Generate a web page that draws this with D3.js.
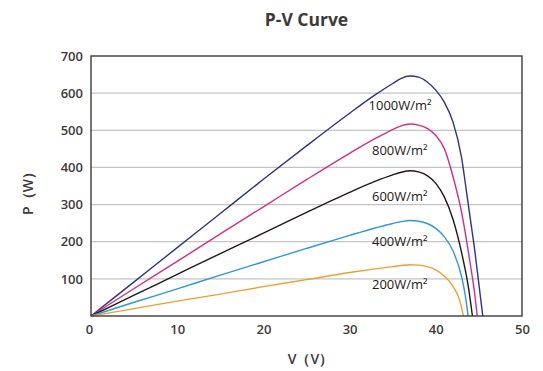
<!DOCTYPE html>
<html>
<head>
<meta charset="utf-8">
<script src="https://cdn.jsdelivr.net/npm/d3@7"></script>
<style>
  body { margin: 0; background: #fff; }
  text { font-family: "Open Sans", "Noto Sans", sans-serif; }
</style>
</head>
<body>
<div id="chart"></div>
<script>
// irradiance series (V in volts, P in watts)
const series = ['1000W/m²', '800W/m²', '600W/m²', '400W/m²', '200W/m²'];
const colors = ['#2e3480', '#d4307e', '#231815', '#2e9ad3', '#f0a033'];

const v1000 = [0, 5, 10, 15, 20, 25, 30, 33, 35, 36, 37, 38, 39, 40, 41, 42, 43, 43.5, 44, 44.5, 45, 45.45];
const p1000 = [0, 92, 184, 276, 368, 458, 546, 596, 626, 640, 646, 643, 630, 608, 575, 522, 425, 345, 262, 180, 85, 0];

const v800 = [0, 5, 10, 15, 20, 25, 30, 33, 35, 36, 37, 38, 39, 40, 41, 42, 43, 44, 44.5, 44.8];
const p800 = [0, 74, 147, 221, 294, 367, 438, 478, 502, 512, 517, 514, 505, 486, 450, 375, 278, 140, 62, 0];

const v600 = [0, 5, 10, 15, 20, 25, 30, 33, 35, 36, 37, 38, 39, 40, 41, 42, 43, 43.8, 44.25];
const p600 = [0, 56, 112, 168, 223, 279, 333, 363, 380, 387, 391, 388, 378, 357, 320, 260, 170, 75, 0];

const v400 = [0, 5, 10, 15, 20, 25, 30, 33, 35, 36, 37, 38, 39, 40, 41, 42, 43, 43.4, 43.75];
const p400 = [0, 37, 73, 110, 146, 182, 217, 237, 249, 254, 257, 255, 249, 236, 213, 175, 105, 58, 0];

const v200 = [0, 5, 10, 15, 20, 25, 30, 33, 35, 36, 37, 38, 39, 40, 41, 42, 42.8, 43.2];
const p200 = [0, 20, 40, 59, 79, 98, 117, 127, 133, 136, 138, 137, 133, 124, 107, 80, 40, 0];

const voltages = [v1000, v800, v600, v400, v200];
const powers = [p1000, p800, p600, p400, p200];

// label anchor points (in data units)
const labelV = [32.2, 32.6, 32.6, 32.6, 32.6];
const labelP = [568, 445, 321, 200, 86];

const xTicks = [0, 10, 20, 30, 40, 50];
const yTicks = [100, 200, 300, 400, 500, 600, 700];

const W = 543, H = 371;
const margin = { top: 56, right: 21, bottom: 55, left: 91 };
const width = W - margin.left - margin.right,
  height = H - margin.top - margin.bottom;

const svg = d3.select('#chart').append('svg')
  .attr('width', W)
  .attr('height', H);

const g = svg.append('g')
  .attr('transform', `translate(${margin.left},${margin.top})`);

const x = d3.scaleLinear().domain([0, 50]).range([0, width]);
const y = d3.scaleLinear().domain([0, 700]).range([height, 0]);

// grid lines
g.append('g')
  .selectAll('line')
  .data(yTicks.filter(d => d < 700))
  .enter().append('line')
  .attr('x1', 0)
  .attr('x2', width)
  .attr('y1', d => y(d))
  .attr('y2', d => y(d))
  .attr('stroke', '#c4c4c4')
  .attr('stroke-width', 1.2);

// curves
const line = d3.line()
  .x(d => x(d[0]))
  .y(d => y(d[1]))
  .curve(d3.curveMonotoneX);

series.forEach(function (s, i) {
  const pts = voltages[i].map((v, j) => [v, powers[i][j]]);
  g.append('path')
    .datum(pts)
    .attr('fill', 'none')
    .attr('stroke', colors[i])
    .attr('stroke-width', 1.4)
    .attr('d', line);

  g.append('text')
    .attr('x', x(labelV[i]))
    .attr('y', y(labelP[i]))
    .attr('dy', '0.35em')
    .attr('fill', '#231815')
    .style('font-size', '13px')
    .text(s);
});

// frame
g.append('rect')
  .attr('width', width)
  .attr('height', height)
  .attr('fill', 'none')
  .attr('stroke', '#3e3a39')
  .attr('stroke-width', 1.4);

// axes (labels only, frame drawn above)
const xAxis = d3.axisBottom(x).tickValues(xTicks).tickSize(0).tickPadding(9);
const yAxis = d3.axisLeft(y).tickValues(yTicks).tickSize(0).tickPadding(8);

const gx = g.append('g')
  .attr('transform', `translate(0,${height})`)
  .call(xAxis);
const gy = g.append('g').call(yAxis);

[gx, gy].forEach(function (a) {
  a.select('.domain').remove();
  a.selectAll('text')
    .attr('fill', '#3e3a39')
    .style('font-size', '13px')
    .style('font-weight', '600')
    .style('font-family', '"Open Sans", "Noto Sans", sans-serif');
});
gx.selectAll('text').filter(d => d === 0).attr('dx', '-2');

// titles
svg.append('text')
  .attr('x', margin.left + width / 2)
  .attr('y', 26)
  .attr('text-anchor', 'middle')
  .attr('fill', '#3e3a39')
  .style('font-size', '17.5px')
  .style('font-weight', '700')
  .text('P-V Curve');

svg.append('text')
  .attr('x', margin.left + width / 2 + 4)
  .attr('y', 364)
  .attr('text-anchor', 'middle')
  .attr('fill', '#3e3a39')
  .style('font-size', '14px')
  .style('font-weight', '600')
  .text('V（V）');

svg.append('text')
  .attr('transform', `translate(33,190) rotate(-90)`)
  .attr('text-anchor', 'middle')
  .attr('fill', '#3e3a39')
  .style('font-size', '14px')
  .style('font-weight', '600')
  .text('P（W）');
</script>
</body>
</html>
